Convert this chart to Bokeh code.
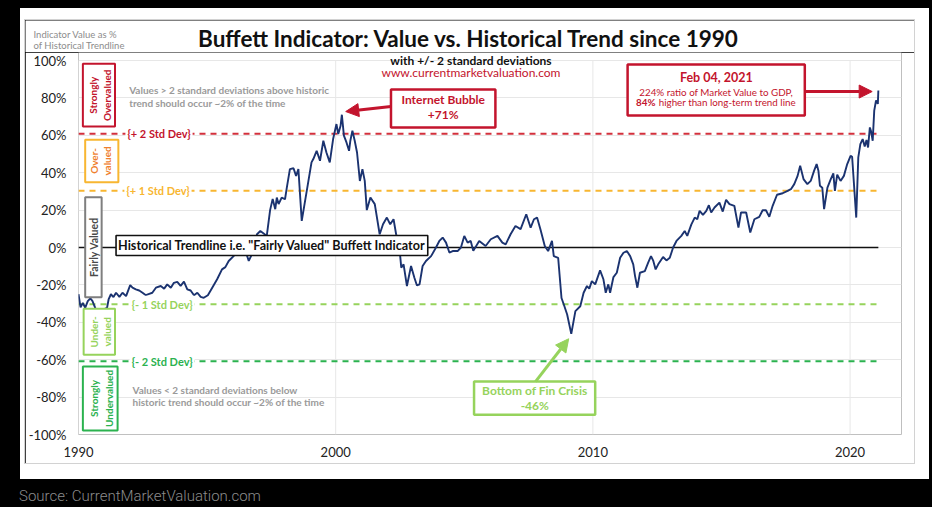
import math
from bokeh.plotting import figure
from bokeh.layouts import column, row
from bokeh.models import Spacer, Div, Label, Arrow, NormalHead, FixedTicker, Range1d
from bokeh.embed import file_html
from bokeh.resources import INLINE

# ---------------- data ----------------
dates = [
    1990.00, 1990.08, 1990.17, 1990.26, 1990.36, 1990.46, 1990.54, 1990.65, 1990.77, 1990.88,
    1991.00, 1991.11, 1991.17, 1991.26, 1991.36, 1991.46, 1991.59, 1991.71, 1991.85, 1992.01,
    1992.10, 1992.23, 1992.36, 1992.49, 1992.62, 1992.75, 1992.87, 1993.01, 1993.20, 1993.33,
    1993.45, 1993.59, 1993.71, 1993.84, 1993.97, 1994.10, 1994.23, 1994.36, 1994.49, 1994.62,
    1994.75, 1994.87, 1995.03, 1995.20, 1995.39, 1995.58, 1995.71, 1995.84, 1996.03, 1996.16,
    1996.29, 1996.42, 1996.52, 1996.62, 1996.74, 1996.84, 1996.94, 1997.07, 1997.20, 1997.32,
    1997.45, 1997.55, 1997.65, 1997.71, 1997.78, 1997.90, 1998.03, 1998.10, 1998.22, 1998.36,
    1998.46, 1998.55, 1998.68, 1998.81, 1998.94, 1999.06, 1999.13, 1999.26, 1999.39, 1999.52,
    1999.64, 1999.77, 1999.90, 2000.03, 2000.10, 2000.19, 2000.24, 2000.32, 2000.42, 2000.52,
    2000.57, 2000.65, 2000.74, 2000.83, 2000.94, 2001.04, 2001.13, 2001.21, 2001.35, 2001.52,
    2001.71, 2001.84, 2001.99, 2002.12, 2002.25, 2002.35, 2002.46, 2002.55, 2002.64, 2002.77,
    2002.93, 2003.06, 2003.16, 2003.26, 2003.38, 2003.51, 2003.71, 2003.90, 2004.03, 2004.16,
    2004.29, 2004.42, 2004.55, 2004.74, 2004.87, 2005.00, 2005.13, 2005.25, 2005.35, 2005.58,
    2005.83, 2006.03, 2006.29, 2006.48, 2006.61, 2006.80, 2006.99, 2007.19, 2007.41, 2007.58,
    2007.71, 2007.83, 2007.96, 2008.13, 2008.26, 2008.41, 2008.48, 2008.65, 2008.78, 2008.87,
    2009.00, 2009.16, 2009.32, 2009.51, 2009.64, 2009.77, 2009.86, 2009.96, 2010.09, 2010.28,
    2010.41, 2010.50, 2010.60, 2010.67, 2010.80, 2010.93, 2011.06, 2011.19, 2011.32, 2011.45,
    2011.57, 2011.64, 2011.73, 2011.83, 2012.02, 2012.15, 2012.26, 2012.35, 2012.44, 2012.54,
    2012.73, 2012.86, 2012.99, 2013.12, 2013.25, 2013.44, 2013.57, 2013.67, 2013.83, 2013.96,
    2014.06, 2014.15, 2014.28, 2014.41, 2014.51, 2014.60, 2014.73, 2014.92, 2015.05, 2015.18,
    2015.31, 2015.50, 2015.66, 2015.76, 2015.96, 2016.12, 2016.28, 2016.47, 2016.60, 2016.73,
    2016.86, 2016.99, 2017.16, 2017.38, 2017.57, 2017.70, 2017.83, 2017.96, 2018.06, 2018.19,
    2018.34, 2018.47, 2018.60, 2018.70, 2018.77, 2018.83, 2018.92, 2018.99, 2019.12, 2019.25,
    2019.35, 2019.41, 2019.50, 2019.63, 2019.76, 2019.89, 2020.02, 2020.08, 2020.24, 2020.32,
    2020.40, 2020.49, 2020.57, 2020.64, 2020.70, 2020.77, 2020.82, 2020.88, 2020.94, 2021.01,
    2021.08, 2021.10,
]
indicator_pct = [
    -25.0, -32.0, -29.6, -32.3, -28.7, -27.2, -28.5, -32.3, -35.0, -36.0,
    -33.0, -32.3, -27.8, -25.0, -26.5, -24.2, -26.4, -24.2, -26.0, -20.1,
    -21.5, -22.4, -23.0, -24.2, -25.5, -24.8, -24.2, -21.5, -20.6, -22.0,
    -19.7, -21.5, -18.9, -18.4, -20.5, -18.3, -22.4, -23.0, -25.5, -24.2,
    -26.4, -26.9, -25.5, -21.5, -17.0, -11.7, -10.5, -7.2, -4.6, -1.9,
    -1.0, 0.0, -3.0, -7.2, -3.7, 1.0, 7.1, 8.8, 7.5, 6.2,
    20.0, 26.0, 20.5, 26.7, 23.2, 26.7, 25.8, 32.0, 41.9, 42.4,
    38.3, 41.9, 14.2, 24.9, 35.6, 45.5, 47.3, 51.7, 46.4, 57.1,
    50.8, 45.5, 58.0, 66.0, 60.7, 65.1, 71.0, 59.8, 56.2, 51.7,
    57.1, 62.5, 57.1, 50.8, 35.6, 41.9, 35.6, 20.0, 26.7, 23.2,
    7.1, 12.4, 16.0, 12.4, 15.1, 7.1, 2.6, -10.8, -9.0, -20.6,
    -9.9, -16.2, -20.3, -19.7, -9.9, -7.2, -4.6, 0.0, 3.5, 5.3,
    2.6, -2.7, -1.9, -1.9, 0.0, 6.2, 2.6, 3.5, -1.8, 3.5,
    0.8, 4.4, 6.2, 2.6, 1.7, 7.1, 11.5, 9.8, 17.8, 10.6,
    15.1, 16.0, 9.8, 0.8, -1.9, 3.5, -4.6, -5.5, -27.0, -30.5,
    -35.8, -46.2, -34.0, -31.4, -24.2, -20.6, -22.0, -18.0, -19.7, -12.2,
    -17.0, -24.2, -19.7, -24.2, -15.8, -13.5, -5.5, -2.8, -1.9, -4.6,
    -9.0, -15.3, -21.5, -13.5, -12.6, -8.1, -4.6, -7.2, -11.7, -9.0,
    -5.1, -6.9, -5.5, 0.0, 3.5, 6.2, 8.8, 6.2, 12.4, 16.0,
    15.1, 19.6, 17.4, 19.6, 22.6, 18.7, 21.4, 24.0, 19.2, 25.5,
    23.2, 22.3, 10.6, 18.7, 18.7, 8.0, 15.1, 16.4, 19.9, 19.9,
    16.4, 22.3, 28.2, 29.0, 30.3, 31.2, 33.9, 38.3, 43.7, 36.6,
    33.9, 35.6, 41.0, 44.6, 41.0, 33.0, 32.0, 20.5, 32.0, 36.6,
    39.6, 30.3, 39.0, 35.6, 38.3, 44.6, 49.0, 48.5, 16.0, 48.2,
    55.3, 58.0, 54.0, 57.5, 53.5, 64.2, 62.0, 57.1, 73.2, 78.6,
    76.8, 84.0,
]

x_ticks = [1990, 2000, 2010, 2020]
y_ticks = [-100, -80, -60, -40, -20, 0, 20, 40, 60, 80, 100]
y_tick_labels = ["-100%", "-80%", "-60%", "-40%", "-20%", "0%", "20%", "40%", "60%", "80%", "100%"]

std_dev_pct = 30.4
band_levels = [2, 1, -1, -2]
band_labels = ["{+ 2 Std Dev}", "{+ 1 Std Dev}", "{- 1 Std Dev}", "{- 2 Std Dev}"]

# ---------------- styles ----------------
FONT = "Lato"
RED = "#c3142d"
RED_LINE = "#d3303c"
ORANGE_LINE = "#f8b631"
ORANGE_TEXT = "#ef7f2f"
LGREEN = "#96d35c"
GREEN = "#2bb24f"
GRAY_BOX = "#7f7f7f"
NAVY = "#1b3370"
band_colors = [RED_LINE, ORANGE_LINE, LGREEN, GREEN]
band_text_colors = [RED, ORANGE_LINE, LGREEN, GREEN]

PX_PER_PCT = 1.87        # vertical scale of the main frame
MID = 0.39               # baseline -> middle offset, in em

# ---------------- header strip (title + axis caption) ----------------
HEAD_W, HEAD_H = 889, 32
head = figure(width=HEAD_W, height=HEAD_H, title=None,
              x_range=Range1d(0, HEAD_W), y_range=Range1d(HEAD_H, 0),
              x_axis_location=None, y_axis_location=None,
              output_backend="svg", toolbar_location=None,
              min_border_left=0, min_border_right=0, min_border_top=0, min_border_bottom=0,
              background_fill_color="white", border_fill_color="white", outline_line_color=None)
head.xgrid.visible = False
head.ygrid.visible = False


def head_txt(x, y_base, text, size, color, bold=False, align="left"):
    head.add_layout(Label(x=x, y=y_base - MID * size, text=text, text_font=FONT,
                          text_font_size=f"{size}px", text_color=color,
                          text_font_style="bold" if bold else "normal",
                          text_align=align, text_baseline="middle"))


head_txt(443.5, 27, "Buffett Indicator: Value vs. Historical Trend since 1990", 22.5, "#111111", True, "center")
head_txt(8, 17.3, "Indicator Value as %", 9.5, "#8c8c8c")
head_txt(8, 29, "of Historical Trendline", 9.5, "#8c8c8c")

# ---------------- main chart ----------------
Y_TOP = 100 + 8 / PX_PER_PCT
p = figure(width=889, height=411, title=None,
           x_range=Range1d(1990, 2022), y_range=Range1d(-100, Y_TOP),
           output_backend="svg", toolbar_location=None,
           min_border_left=49, min_border_right=13, min_border_top=0, min_border_bottom=29,
           background_fill_color="white", border_fill_color="white", outline_line_color=None)

for fig in (head, p):
    if "frame_align" in fig.properties():
        fig.frame_align = False

p.xaxis.ticker = FixedTicker(ticks=x_ticks)
p.yaxis.ticker = FixedTicker(ticks=y_ticks)
p.yaxis.major_label_overrides = dict(zip(y_ticks, y_tick_labels))
for ax in (p.xaxis[0], p.yaxis[0]):
    ax.axis_line_color = None
    ax.major_tick_line_color = None
    ax.minor_tick_line_color = None
    ax.major_tick_out = 0
    ax.major_tick_in = 0
    ax.major_label_text_font = FONT
    ax.major_label_text_font_size = "13px"
    ax.major_label_text_color = "#222222"
    ax.major_label_standoff = 12
p.xgrid.visible = False
p.ygrid.ticker = FixedTicker(ticks=y_ticks)
p.ygrid.grid_line_color = "#e7e7e7"
# vertical grid lines only across the value range
p.segment(x0=x_ticks, y0=[y_ticks[0]] * len(x_ticks), x1=x_ticks, y1=[y_ticks[-1]] * len(x_ticks),
          line_color="#e7e7e7", line_width=1)

x_first, x_last = dates[0], dates[-1]

for lvl, col in zip(band_levels, band_colors):
    yv = lvl * std_dev_pct
    p.line([x_first, x_last], [yv, yv], line_color=col, line_width=2, line_dash="6 5")
p.line([x_first, x_last], [0, 0], line_color="#111111", line_width=1.6)

p.line(dates, indicator_pct, line_color=NAVY, line_width=1.9)

boxes = [
    (1990.17, 1991.42, 98.2, 64.7, RED, 2),
    (1990.26, 1991.55, 57.6, 34.9, ORANGE_LINE, 2),
    (1990.26, 1990.90, 26.9, -26.6, GRAY_BOX, 2),
    (1990.20, 1991.42, -32.8, -57.4, LGREEN, 2),
    (1990.17, 1991.52, -63.6, -97.9, GREEN, 2),
    (1991.46, 2003.58, 6.4, -4.3, "#111111", 1.6),
    (2002.15, 2006.21, 84.5, 64.2, RED, 2.5),
    (2011.35, 2018.24, 97.9, 70.6, RED, 2.5),
    (2005.38, 2010.09, -71.7, -89.5, LGREEN, 2.5),
]
for l, r, t, b, c, w in boxes:
    p.quad(left=l, right=r, top=t, bottom=b, fill_color="white", line_color=c, line_width=w)


def txt(x, y, text, size, color, bold=False, align="left", baseline="alphabetic", angle=0.0, bg=None):
    # y is the text baseline (alphabetic) or its middle; always drawn with a middle anchor
    if baseline == "alphabetic":
        y = y + MID * size / PX_PER_PCT
    lab = Label(x=x, y=y, text=text, text_font=FONT, text_font_size=f"{size}px",
                text_color=color, text_font_style="bold" if bold else "normal",
                text_align=align, text_baseline="middle", angle=angle, angle_units="rad")
    if bg is not None:
        lab.background_fill_color = bg
        lab.padding = 2
    p.add_layout(lab)


txt(2005.26, 97.6, "with +/- 2 standard deviations", 12, "#111111", True, "center")
txt(2005.26, 91.2, "www.currentmarketvaluation.com", 12, RED, False, "center")

for lvl, lab, col, xc in zip(band_levels, band_labels, band_text_colors, [1993.13, 1993.09, 1993.25, 1993.25]):
    txt(xc, lvl * std_dev_pct, lab, 11, col, True, "center", "middle", bg="white")

R = math.pi / 2
txt(1990.55, 81.4, "Strongly", 10, RED, True, "center", "middle", R)
txt(1991.11, 81.4, "Overvalued", 10, RED, True, "center", "middle", R)
txt(1990.62, 46.3, "Over-", 10, ORANGE_TEXT, True, "center", "middle", R)
txt(1991.11, 46.3, "valued", 10, ORANGE_TEXT, True, "center", "middle", R)
txt(1990.59, 0.2, "Fairly Valued", 10.5, "#4a4a4a", True, "center", "middle", R)
txt(1990.59, -45.1, "Under-", 10, LGREEN, True, "center", "middle", R)
txt(1991.11, -45.1, "valued", 10, LGREEN, True, "center", "middle", R)
txt(1990.62, -80.7, "Strongly", 10, GREEN, True, "center", "middle", R)
txt(1991.20, -80.7, "Undervalued", 10, GREEN, True, "center", "middle", R)

txt(1991.97, 82.2, "Values > 2 standard deviations above historic", 10, "#9a9a9a", True)
txt(1991.97, 75.4, "trend should occur ~2% of the time", 10, "#9a9a9a", True)
txt(1992.10, -78.2, "Values < 2 standard deviations below", 10, "#9a9a9a", True)
txt(1992.10, -84.5, "historic trend should occur ~2% of the time", 10, "#9a9a9a", True)

txt(1997.52, 1.0, "Historical Trendline i.e. \"Fairly Valued\" Buffett Indicator", 12.6, "#111111", True, "center", "middle")

txt(2004.18, 76.8, "Internet Bubble", 12, RED, True, "center")
txt(2004.18, 68.8, "+71%", 12, RED, True, "center")
txt(2014.80, 88.4, "Feb 04, 2021", 12.5, RED, True, "center")
txt(2014.80, 80.9, "224% ratio of Market Value to GDP,", 9.8, RED, False, "center")
txt(2011.68, 75.6, "84%", 9.8, RED, True)
txt(2012.56, 75.6, "higher than long-term trend line", 9.8, RED, False)
txt(2007.74, -79.1, "Bottom of Fin Crisis", 12, LGREEN, True, "center")
txt(2007.74, -86.8, "-46%", 12, LGREEN, True, "center")

p.add_layout(Arrow(end=NormalHead(size=13, fill_color=RED, line_color=RED),
                   x_start=2002.15, y_start=75.4, x_end=2000.39, y_end=72.7,
                   line_color=RED, line_width=3))
p.add_layout(Arrow(end=NormalHead(size=13, fill_color=RED, line_color=RED),
                   x_start=2018.24, y_start=83.4, x_end=2020.86, y_end=83.4,
                   line_color=RED, line_width=3))
p.add_layout(Arrow(end=NormalHead(size=13, fill_color=LGREEN, line_color=LGREEN),
                   x_start=2007.77, y_start=-71.7, x_end=2009.06, y_end=-48.8,
                   line_color=LGREEN, line_width=3))

panel = column(head, p, spacing=0,
               styles={"border": "1px solid #d2d2d2",
                       "box-shadow": "5px -2px 0 9px #ffffff, 5px 6px 0 9px #ffffff"})

source_div = Div(text="Source: CurrentMarketValuation.com", width=400, height=20,
                 styles={"color": "#8c8c8c", "font-family": "Roboto", "font-size": "15px",
                         "font-weight": "300"})

root = column(
    Spacer(width=10, height=19),
    row(Spacer(width=24, height=443), panel),
    Spacer(width=10, height=17),
    row(Spacer(width=14, height=20), source_div),
)

html = file_html(root, INLINE)
html = html.replace("</head>", "<style>html, body { background-color: #000000 !important; }</style></head>", 1)
open("out.html", "w").write(html)
